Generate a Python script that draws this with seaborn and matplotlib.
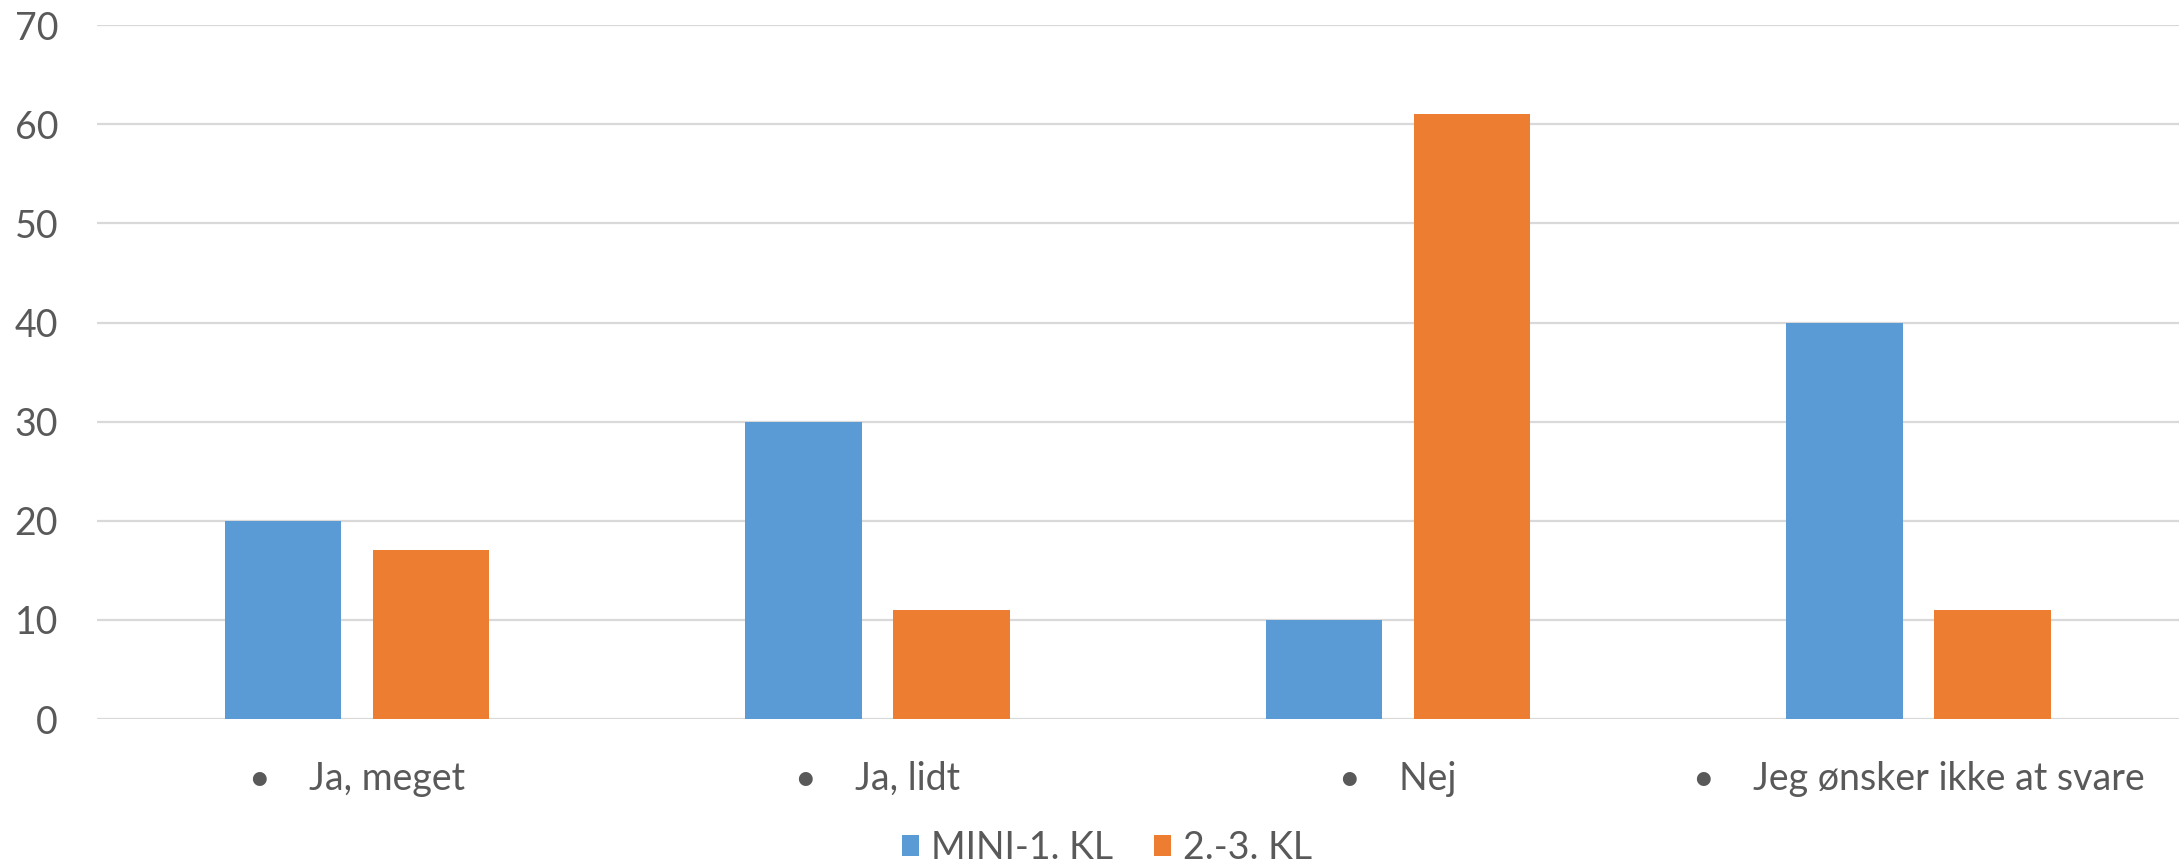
import pandas as pd
import matplotlib
matplotlib.use('Agg')
import matplotlib.pyplot as plt
import seaborn as sns

# answers and shares (%) per class group
categories = ['Ja, meget', 'Ja, lidt', 'Nej', 'Jeg ønsker ikke at svare']
groups = ['MINI-1. KL', '2.-3. KL']
mini_1 = [20, 30, 10, 40]
kl_2_3 = [17, 11, 61, 11]
yticks = [0, 10, 20, 30, 40, 50, 60, 70]

df = pd.DataFrame({
    'svar': categories * 2,
    'gruppe': [groups[0]] * 4 + [groups[1]] * 4,
    'pct': mini_1 + kl_2_3,
})

sns.set_theme(style='white')
plt.rcParams['font.family'] = ['Lato', 'DejaVu Sans']
text_col = '#595959'

fig = plt.figure(figsize=(21.83, 8.67), dpi=100)
ax = fig.add_axes([0.0444, 0.1707, 0.9536, 0.8003])

sns.barplot(data=df, x='svar', y='pct', hue='gruppe', order=categories,
            hue_order=groups, palette=['#5B9BD5', '#ED7D31'],
            width=0.569, gap=0.215, ax=ax, legend=True, saturation=1,
            linewidth=0)

ax.set_ylim(0, 70)
ax.set_yticks(yticks)
ax.set_xlim(-0.5, 3.5)
ax.grid(axis='y', color='#D9D9D9', linewidth=1.6)
ax.set_axisbelow(True)
for s in ax.spines.values():
    s.set_visible(False)
ax.set_xlabel('')
ax.set_ylabel('')
ax.set_xticks(range(len(categories)))
ax.set_xticklabels(['\u2022    ' + c for c in categories])
ax.tick_params(axis='x', length=0, pad=30, labelsize=27, labelcolor=text_col)
ax.tick_params(axis='y', length=0, pad=28, labelsize=27, labelcolor=text_col)

handles, labels = ax.get_legend_handles_labels()
ax.legend_.remove()
fig.legend(handles, labels, loc='center', bbox_to_anchor=(0.507, 0.022),
           ncol=2, frameon=False, fontsize=27, labelcolor=text_col,
           handlelength=0.45, handleheight=0.45, handletextpad=0.32,
           columnspacing=1.1, borderpad=0)

fig.savefig('out.png', dpi=100)
